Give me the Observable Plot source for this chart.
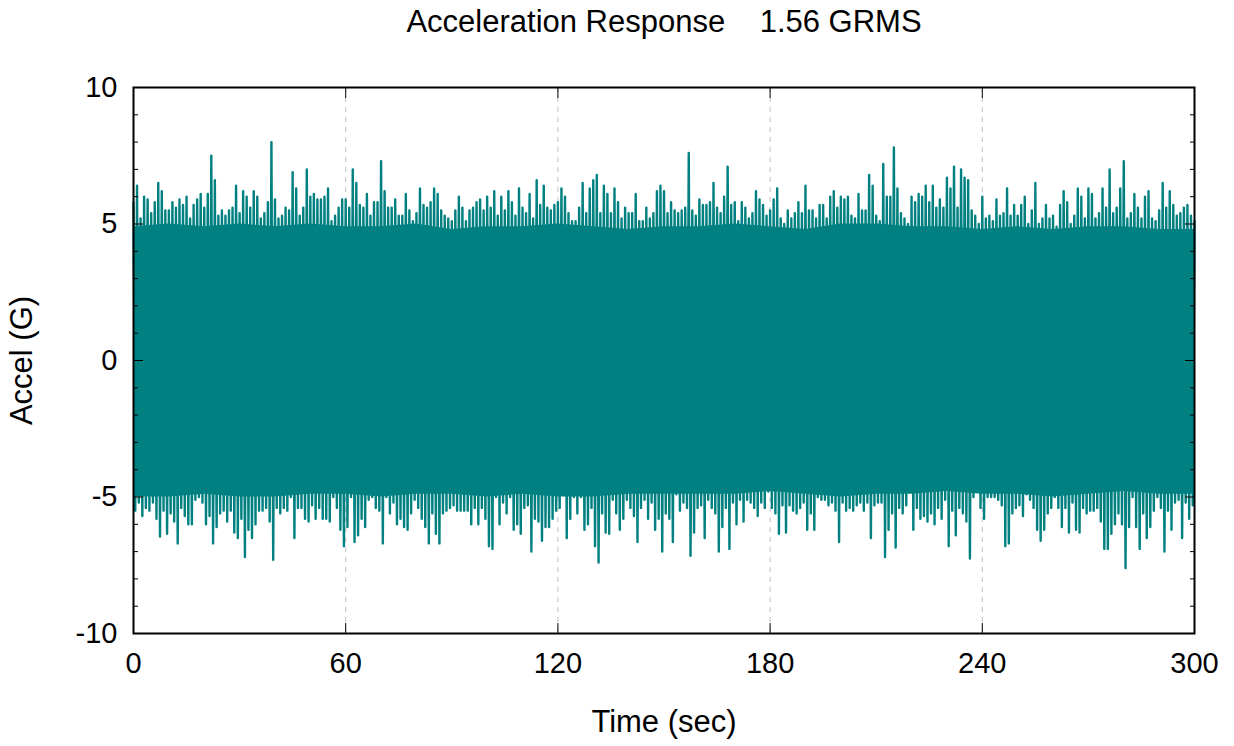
<!DOCTYPE html>
<html><head><meta charset="utf-8">
<script src="https://cdn.jsdelivr.net/npm/d3@7"></script>
<script src="https://cdn.jsdelivr.net/npm/@observablehq/plot@0.6"></script>
<style>html,body{margin:0;padding:0;background:#fff;} #chart{width:1234px;height:746px;}</style>
</head><body><div id="chart"></div>
<script>
// Peak (upper) acceleration per 1-second window, t = 0..300 s
const upperPeaks = [
5.8,6.4,5.2,6.0,5.9,5.4,5.8,6.5,6.2,5.5,
5.5,5.8,5.6,5.9,5.7,6.0,5.2,5.7,5.9,6.1,
5.6,6.1,7.5,6.6,5.3,5.5,5.3,5.5,5.6,6.4,
5.4,6.2,6.0,5.6,6.2,6.0,5.2,5.4,5.8,8.0,
5.9,5.2,5.3,5.6,5.5,6.9,6.3,5.3,5.6,7.0,
6.0,6.1,5.9,5.9,6.0,6.3,5.1,5.3,5.6,5.9,
5.9,5.6,7.0,6.5,5.7,5.6,6.1,5.3,5.8,5.8,
7.3,6.2,5.6,5.6,5.9,5.3,5.3,6.1,5.5,5.1,
5.4,6.3,5.7,5.6,5.8,6.3,6.1,5.5,5.3,5.2,
5.1,5.5,6.0,5.6,5.1,5.5,5.6,5.8,5.9,5.5,
6.0,5.6,6.2,5.3,6.0,5.5,6.2,5.8,5.3,6.3,
5.6,5.4,6.1,5.2,6.6,5.7,6.4,5.6,5.5,5.7,
5.8,6.3,6.0,5.4,5.1,5.1,5.6,6.5,5.4,6.3,
6.6,6.8,5.4,6.4,6.1,5.4,6.3,5.8,5.2,5.6,
5.4,5.4,6.1,5.1,5.1,5.6,5.2,5.4,6.2,6.4,
6.2,5.4,5.8,5.5,5.4,5.5,5.6,7.6,5.5,5.3,
5.9,5.7,5.7,5.8,6.5,5.6,5.4,6.0,7.1,5.7,
5.8,5.1,5.8,5.6,5.2,5.4,6.2,5.9,5.7,5.3,
5.5,5.9,6.3,5.2,5.0,5.5,5.2,5.4,5.8,5.4,
6.4,5.5,5.5,5.2,5.7,5.7,5.2,6.0,6.2,5.6,
6.0,5.9,6.0,5.3,5.2,6.1,5.5,5.5,6.8,6.4,
5.3,5.1,7.2,6.0,6.0,7.8,6.3,5.4,5.2,5.0,
6.0,5.8,6.1,6.0,6.4,5.8,6.4,5.6,5.9,5.6,
6.7,6.3,7.1,5.6,7.0,6.7,6.6,5.5,5.3,5.0,
6.0,5.2,5.3,5.1,5.9,5.3,5.4,6.3,5.3,5.7,
5.3,5.7,6.0,5.0,5.5,6.5,5.0,5.2,5.7,5.2,
5.3,4.9,5.7,6.2,5.8,5.0,5.3,6.3,6.0,5.2,
6.3,6.1,5.2,5.4,6.3,5.6,7.0,5.4,5.6,6.3,
7.3,5.2,5.4,6.1,5.6,5.2,6.0,6.2,5.2,5.1,
5.5,6.5,5.6,6.2,5.7,5.3,5.4,5.6,5.7,5.3,
5.1
];
// Trough (lower) acceleration per 1-second window, t = 0.5..299.5 s
const lowerPeaks = [
-5.5,-5.2,-5.7,-5.4,-5.5,-5.2,-5.8,-6.45,-5.5,-6.35,
-5.6,-5.9,-6.7,-5.4,-5.7,-6.0,-6.0,-5.1,-5.0,-5.2,
-6.0,-5.7,-6.7,-6.1,-5.6,-5.5,-5.9,-5.5,-6.3,-6.5,
-5.8,-7.2,-6.2,-6.5,-6.0,-5.5,-5.5,-5.4,-5.9,-7.3,
-5.4,-5.6,-5.4,-5.5,-5.0,-6.5,-5.4,-5.4,-5.8,-5.9,
-5.3,-5.8,-5.4,-5.8,-5.8,-5.9,-5.0,-5.4,-6.2,-6.8,
-6.1,-5.0,-6.65,-6.4,-5.8,-6.1,-5.1,-5.0,-5.4,-5.5,
-6.7,-5.0,-5.6,-5.2,-6.0,-5.8,-6.1,-6.2,-5.6,-5.1,
-5.4,-5.8,-6.1,-6.7,-5.6,-6.35,-6.7,-5.6,-5.5,-5.4,
-5.3,-5.5,-5.5,-5.5,-5.5,-6.0,-5.4,-6.0,-5.4,-5.8,
-6.8,-6.9,-5.0,-6.0,-5.2,-5.6,-5.0,-6.2,-6.0,-6.35,
-5.4,-5.3,-7.0,-5.8,-5.9,-6.6,-6.1,-6.1,-5.8,-5.5,
-5.4,-4.9,-6.5,-5.8,-5.0,-5.6,-5.0,-6.2,-6.0,-5.4,
-6.8,-7.4,-5.6,-6.3,-6.35,-5.1,-5.6,-6.2,-5.8,-5.1,
-5.4,-5.7,-6.65,-5.4,-5.1,-5.8,-5.2,-6.2,-5.8,-7.0,
-5.6,-5.8,-6.65,-4.9,-5.5,-5.2,-5.4,-7.15,-6.3,-5.4,
-5.3,-6.5,-5.1,-5.4,-5.6,-7.0,-6.1,-5.4,-6.9,-5.2,
-6.0,-5.1,-5.9,-5.1,-5.2,-5.4,-5.7,-5.2,-5.4,-4.8,
-5.4,-5.6,-6.35,-5.3,-6.3,-5.3,-5.5,-5.6,-5.4,-5.2,
-6.2,-5.6,-6.2,-5.0,-5.1,-5.1,-5.3,-5.2,-5.5,-6.65,
-5.2,-5.5,-5.4,-5.5,-5.3,-5.2,-5.5,-5.2,-6.5,-5.3,
-5.2,-5.2,-7.2,-6.2,-5.6,-6.85,-5.4,-5.6,-5.3,-4.5,
-6.2,-5.4,-5.8,-5.7,-5.9,-5.6,-6.0,-5.4,-5.8,-5.1,
-6.8,-5.5,-6.4,-5.4,-5.6,-5.9,-7.25,-5.0,-4.7,-5.4,
-5.8,-5.0,-5.0,-5.0,-5.1,-5.3,-6.8,-6.7,-5.6,-5.4,
-5.3,-5.7,-4.9,-5.1,-5.4,-6.2,-6.6,-6.2,-5.6,-5.4,
-5.0,-5.4,-6.1,-5.4,-6.3,-5.2,-6.2,-6.3,-5.4,-5.6,
-5.5,-5.5,-5.4,-5.9,-6.9,-6.9,-6.35,-6.0,-5.6,-6.0,
-7.6,-6.1,-5.0,-6.1,-6.9,-5.6,-6.5,-6.1,-5.5,-5.0,
-5.4,-7.0,-5.5,-6.2,-5.2,-5.1,-6.5,-5.2,-5.8,-5.3
];
// Edge of the solid (saturated) band, every 10 s
const coreTimes = [0,10,20,30,40,50,60,70,80,90,100,110,120,130,140,150,160,170,180,190,200,210,220,230,240,250,260,270,280,290,300];
const coreUpper = [4.9,5.0,4.9,5.0,4.9,5.0,4.9,4.9,5.0,4.8,4.9,4.9,5.0,4.9,4.8,4.9,4.9,5.0,4.9,4.8,5.0,5.0,4.9,4.9,4.8,4.9,4.8,4.9,4.9,4.8,4.8];
const coreLower = [-5.0,-5.0,-4.9,-5.0,-5.0,-4.9,-4.9,-5.0,-4.9,-4.9,-5.0,-4.9,-5.0,-5.0,-4.9,-4.9,-4.9,-4.9,-4.8,-4.9,-5.0,-4.9,-4.9,-4.8,-4.9,-4.9,-5.0,-4.9,-4.8,-4.9,-4.9];

const xTicks = [0,60,120,180,240,300];
const xGrid = [60,120,180,240];
const yTicks = [-10,-5,0,5,10];
const yMinorTicks = [-9,-8,-7,-6,-4,-3,-2,-1,1,2,3,4,6,7,8,9];
const titleText = "Acceleration Response\u00a0\u00a0\u00a0\u00a01.56 GRMS";
const xLabel = "Time (sec)";
const yLabel = "Accel (G)";

const signal = [];
for (let i = 0; i < upperPeaks.length; i++) {
  signal.push({t: i, a: upperPeaks[i]});
  if (i < lowerPeaks.length) signal.push({t: i + 0.5, a: lowerPeaks[i]});
}
const core = coreTimes.map((t, i) => ({t, lo: coreLower[i], hi: coreUpper[i]}));

const teal = "#008080";
const plot = Plot.plot({
  width: 1234, height: 746,
  marginTop: 87, marginRight: 40, marginBottom: 113, marginLeft: 133,
  style: {fontFamily: "'Liberation Sans', Arial, sans-serif", fontSize: "29px", background: "#fff", color: "#000", overflow: "visible"},
  x: {domain: [0, 300]},
  y: {domain: [-10, 10]},
  marks: [
    Plot.ruleX(xGrid, {stroke: "#c0c0c0", strokeWidth: 1, strokeDasharray: "5,5"}),
    Plot.areaY(core, {x: "t", y1: "lo", y2: "hi", fill: teal}),
    Plot.line(signal, {x: "t", y: "a", stroke: teal, strokeWidth: 2.4}),
    Plot.axisX({ticks: xTicks, tickSize: -10, tickPadding: 29, label: null, tickFormat: d => String(d)}),
    Plot.axisX({anchor: "top", ticks: xTicks, tickSize: -10, tickFormat: () => "", label: null}),
    Plot.axisY({ticks: yTicks, tickSize: -10, tickPadding: 26, label: null, tickFormat: d => String(d)}),
    Plot.axisY({ticks: yMinorTicks, tickSize: -5, tickFormat: () => "", label: null}),
    Plot.axisY({anchor: "right", ticks: yTicks, tickSize: -10, tickFormat: () => "", label: null}),
    Plot.axisY({anchor: "right", ticks: yMinorTicks, tickSize: -5, tickFormat: () => "", label: null}),
    Plot.frame({stroke: "#000", strokeWidth: 2}),
    Plot.text([titleText], {frameAnchor: "top", dy: -65, lineAnchor: "middle", textAnchor: "middle", fontSize: 31, text: d => d}),
    Plot.text([xLabel], {frameAnchor: "bottom", dy: 89, lineAnchor: "middle", textAnchor: "middle", fontSize: 31, text: d => d}),
    Plot.text([yLabel], {frameAnchor: "left", dx: -111, rotate: -90, lineAnchor: "middle", textAnchor: "middle", fontSize: 31, text: d => d})
  ]
});
document.getElementById("chart").appendChild(plot);
</script>
</body></html>
